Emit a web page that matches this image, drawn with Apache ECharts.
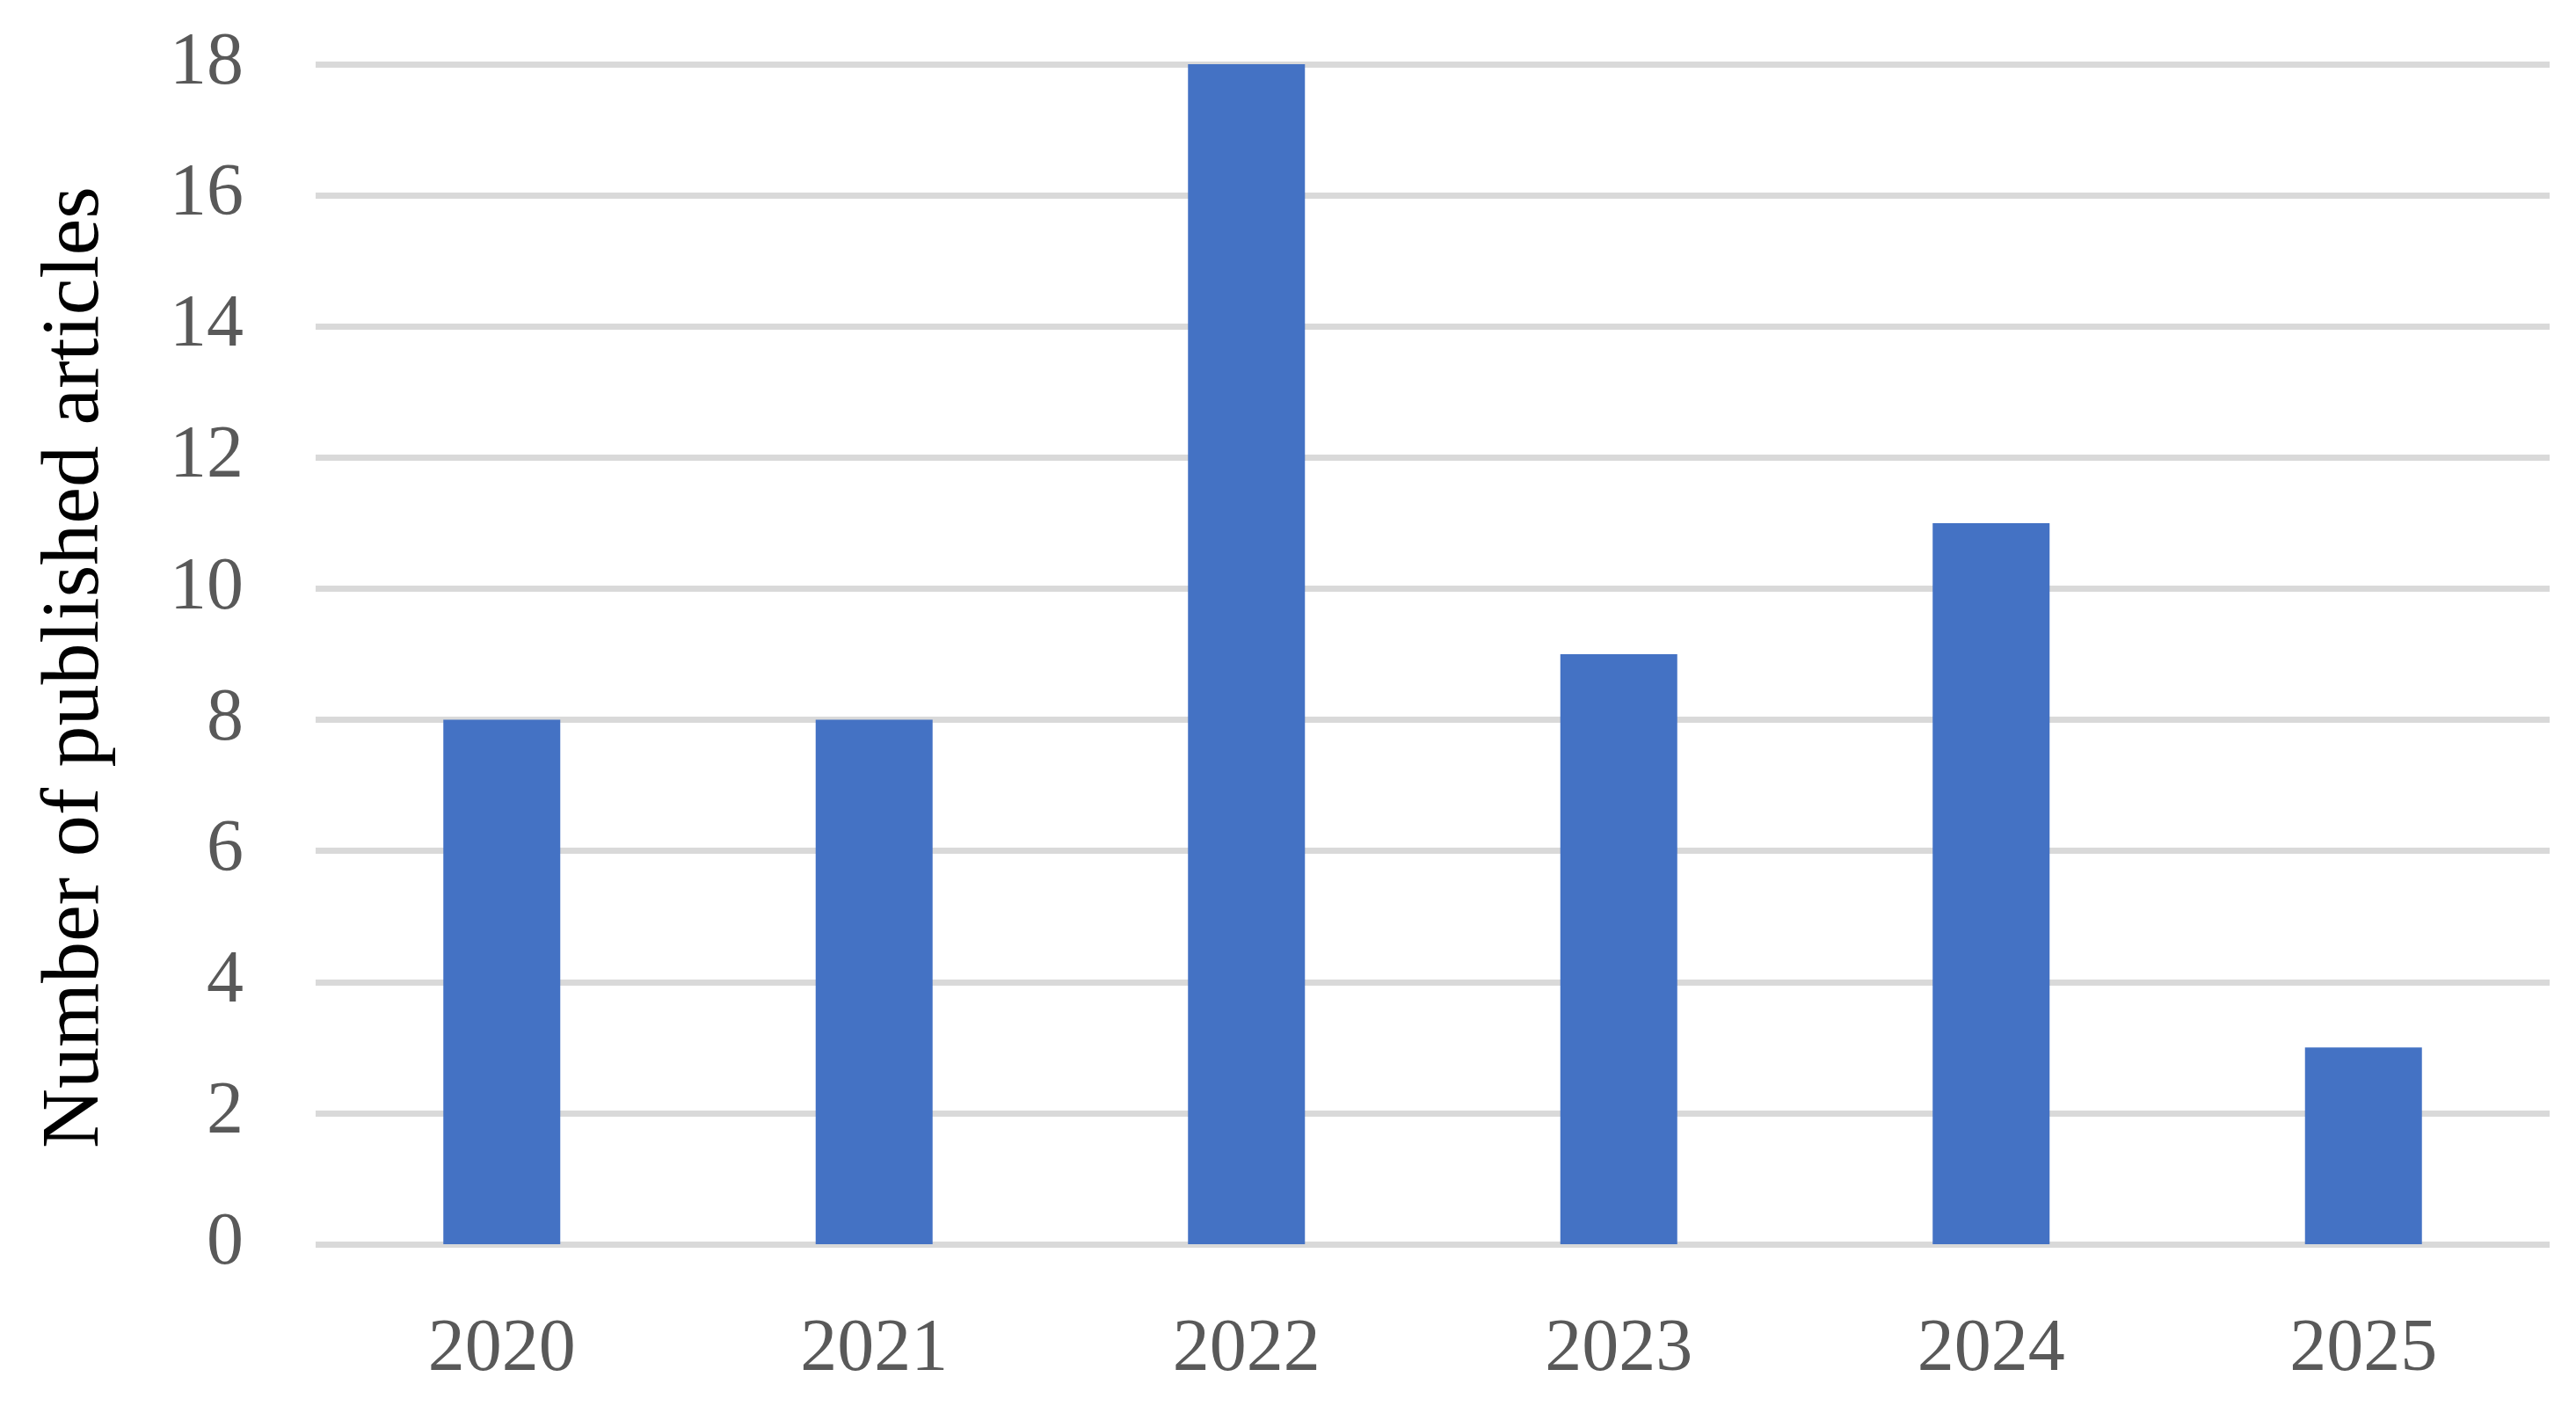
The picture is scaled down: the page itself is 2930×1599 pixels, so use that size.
<!DOCTYPE html>
<html>
<head>
<meta charset="utf-8">
<script src="https://cdn.jsdelivr.net/npm/echarts@6/dist/echarts.min.js"></script>
<style>
  html, body { margin: 0; padding: 0; background: #fff; }
  #chart { width: 2930px; height: 1599px; }
</style>
</head>
<body>
<div id="chart"></div>
<script>
// data
const years = ['2020', '2021', '2022', '2023', '2024', '2025'];
const articles = [8, 8, 18, 9, 11, 3];
const yTicks = { min: 0, max: 18, interval: 2 };

const chart = echarts.init(document.getElementById('chart'), null, { renderer: 'canvas' });

const option = {
    backgroundColor: '#ffffff',
    animation: false,
    grid: {
        left: 359,
        right: 30,
        top: 73,
        bottom: 184,
        containLabel: false
    },
    xAxis: {
        type: 'category',
        data: years,
        axisLine: { show: false },
        axisTick: { show: false },
        axisLabel: {
            margin: 79,
            color: '#595959',
            fontFamily: 'Liberation Serif',
            fontSize: 84
        }
    },
    yAxis: {
        type: 'value',
        min: yTicks.min,
        max: yTicks.max,
        interval: yTicks.interval,
        name: 'Number of published articles',
        nameLocation: 'middle',
        nameGap: 226,
        nameRotate: 90,
        nameTextStyle: {
            color: '#000000',
            fontFamily: 'Liberation Serif',
            fontSize: 94,
            // nudge the title a bit below the grid middle like the original
            padding: [0, 30, 0, 0]
        },
        axisLine: { show: false },
        axisTick: { show: false },
        axisLabel: {
            margin: 82,
            color: '#595959',
            fontFamily: 'Liberation Serif',
            fontSize: 84
        },
        splitLine: {
            show: true,
            lineStyle: { color: '#d9d9d9', width: 7 }
        }
    },
    series: [
        {
            type: 'bar',
            data: articles,
            barWidth: 133,
            itemStyle: { color: '#4472c4' }
        }
    ]
};

chart.setOption(option);
</script>
</body>
</html>
